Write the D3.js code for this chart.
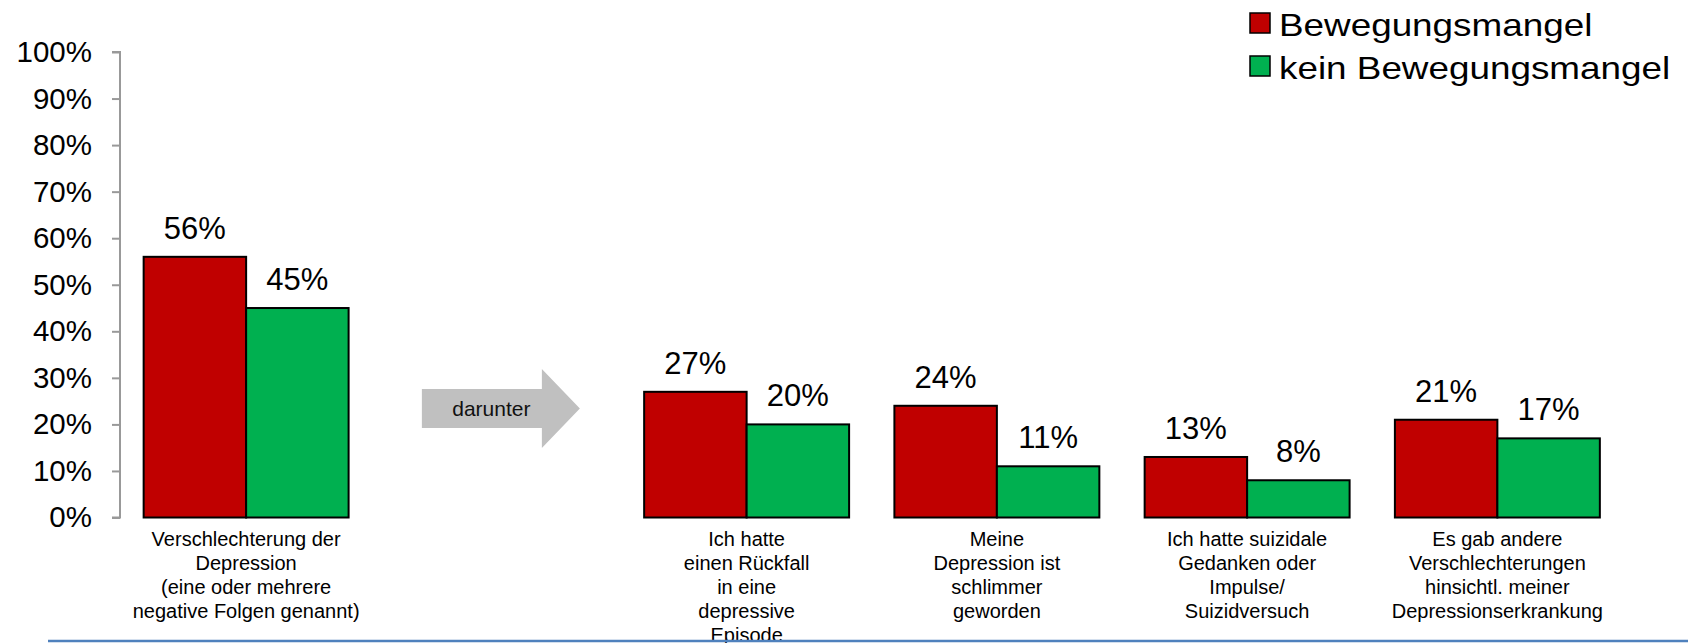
<!DOCTYPE html>
<html>
  <head>
    <meta charset="utf-8" />
    <title>Bewegungsmangel und Verschlechterung der Depression</title>
    <script src="https://d3js.org/d3.v7.min.js"></script>
    <style>
      body { margin: 0; background: #fff; }
      text { font-family: Arial, "Liberation Sans", sans-serif; fill: #000; }
    </style>
  </head>
  <body>
    <div id="chart"></div>
    <script>
      // data
      var categories = [
        ["Verschlechterung der", "Depression", "(eine oder mehrere", "negative Folgen genannt)"],
        [], // slot for the "darunter" arrow
        ["Ich hatte", "einen Rückfall", "in eine", "depressive", "Episode"],
        ["Meine", "Depression ist", "schlimmer", "geworden"],
        ["Ich hatte suizidale", "Gedanken oder", "Impulse/", "Suizidversuch"],
        ["Es gab andere", "Verschlechterungen", "hinsichtl. meiner", "Depressionserkrankung"]
      ];
      var seriesNames = ["Bewegungsmangel", "kein Bewegungsmangel"];
      var seriesColors = ["#C00000", "#00B050"];
      var valuesMangel = [56, null, 27, 24, 13, 21];
      var valuesKein = [45, null, 20, 11, 8, 17];
      var yTicks = [0, 10, 20, 30, 40, 50, 60, 70, 80, 90, 100];

      var width = 1688;
      var height = 643;

      var svg = d3
        .select("#chart")
        .append("svg")
        .attr("width", width)
        .attr("height", height);

      var x = d3
        .scaleBand()
        .domain(d3.range(categories.length))
        .range([121, 1622.5])
        .paddingInner(0.181)
        .paddingOuter(0.0905);

      var xSub = d3.scaleBand().domain([0, 1]).range([0, x.bandwidth()]);

      var y = d3.scaleLinear().domain([0, 100]).range([517.5, 52]);

      // y axis
      var yAxis = svg
        .append("g")
        .attr("transform", "translate(120,0)")
        .call(
          d3
            .axisLeft(y)
            .tickValues(yTicks)
            .tickSize(8)
            .tickPadding(20)
            .tickFormat(function (d) {
              return d + "%";
            })
        );
      yAxis.selectAll("path, line").attr("stroke", "#999").attr("stroke-width", 2);
      yAxis.select("path").attr("d", "M-8," + y(100) + "H0V" + y(0) + "H-8");
      yAxis
        .selectAll("text")
        .attr("fill", "#000")
        .style("font-size", "29.5px")
        .style("font-family", "Arial, 'Liberation Sans', sans-serif");

      // bars
      var rows = [];
      categories.forEach(function (c, i) {
        [valuesMangel[i], valuesKein[i]].forEach(function (v, s) {
          if (v !== null) rows.push({ cat: i, s: s, v: v });
        });
      });

      svg
        .append("g")
        .selectAll("rect")
        .data(rows)
        .enter()
        .append("rect")
        .attr("x", function (d) {
          return x(d.cat) + xSub(d.s);
        })
        .attr("y", function (d) {
          return y(d.v);
        })
        .attr("width", xSub.bandwidth())
        .attr("height", function (d) {
          return y(0) - y(d.v);
        })
        .attr("fill", function (d) {
          return seriesColors[d.s];
        })
        .attr("stroke", "#000")
        .attr("stroke-width", 2);

      // value labels
      svg
        .append("g")
        .selectAll("text")
        .data(rows)
        .enter()
        .append("text")
        .attr("x", function (d) {
          return x(d.cat) + xSub(d.s) + xSub.bandwidth() / 2;
        })
        .attr("y", function (d) {
          return y(d.v) - 18;
        })
        .attr("text-anchor", "middle")
        .style("font-size", "31px")
        .text(function (d) {
          return d.v + "%";
        });

      // category labels
      var catLabels = svg
        .append("g")
        .selectAll("text")
        .data(categories)
        .enter()
        .append("text")
        .attr("text-anchor", "middle")
        .style("font-size", "20px");
      catLabels
        .selectAll("tspan")
        .data(function (d, i) {
          return d.map(function (line) {
            return { line: line, cat: i };
          });
        })
        .enter()
        .append("tspan")
        .attr("x", function (d) {
          return x(d.cat) + x.bandwidth() / 2;
        })
        .attr("y", function (d, j) {
          return y(0) + 28 + j * 24.2;
        })
        .text(function (d) {
          return d.line;
        });

      // "darunter" arrow in the empty slot
      var ax = x(1) + x.bandwidth() / 2;
      var ay = 408.5;
      svg
        .append("path")
        .attr(
          "d",
          "M" + (ax - 74.5) + "," + (ay - 19.5) +
            "H" + (ax + 45.5) + "V" + (ay - 39.5) +
            "L" + (ax + 83.5) + "," + ay +
            "L" + (ax + 45.5) + "," + (ay + 39.5) +
            "V" + (ay + 19.5) + "H" + (ax - 74.5) + "Z"
        )
        .attr("fill", "#c0c0c0");
      svg
        .append("text")
        .attr("x", ax - 5)
        .attr("y", ay + 7)
        .attr("text-anchor", "middle")
        .style("font-size", "21px")
        .style("fill", "#111")
        .text("darunter");

      // legend
      var legend = svg
        .append("g")
        .selectAll("g")
        .data(seriesNames)
        .enter()
        .append("g")
        .attr("transform", function (d, i) {
          return "translate(1250," + (13 + i * 43) + ")";
        });
      legend
        .append("rect")
        .attr("width", 20)
        .attr("height", 20)
        .attr("fill", function (d, i) {
          return seriesColors[i];
        })
        .attr("stroke", "#000")
        .attr("stroke-width", 1.5);
      legend
        .append("text")
        .attr("transform", "translate(29,23) scale(1.17,1)")
        .style("font-size", "31.5px")
        .text(function (d) {
          return d;
        });

      // bottom rule
      svg
        .append("line")
        .attr("x1", 48)
        .attr("x2", width)
        .attr("y1", 641)
        .attr("y2", 641)
        .attr("stroke", "#4F81BD")
        .attr("stroke-width", 2.5);
    </script>
  </body>
</html>
